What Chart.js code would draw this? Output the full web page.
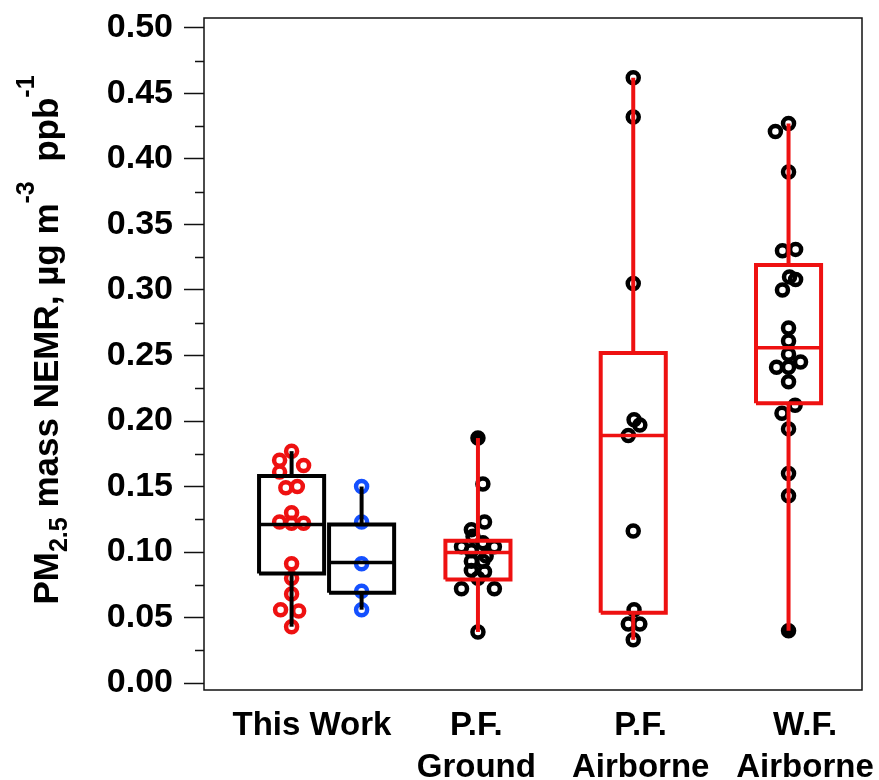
<!DOCTYPE html>
<html>
<head>
<meta charset="utf-8">
<script src="https://cdn.jsdelivr.net/npm/chart.js@4.4.1/dist/chart.umd.min.js"></script>
<style>
  body { margin: 0; background: #fff; }
  .chart-container { width: 879px; height: 780px; }
</style>
</head>
<body>
<div class="chart-container"><canvas id="nemrChart"></canvas></div>
<script>
// x axis categories (multi-line labels) and where they sit on the x axis
const categories = [['This Work'], ['P.F.', 'Ground'], ['P.F.', 'Airborne'], ['W.F.', 'Airborne']];
const categoryX = [1, 2, 3, 4];

// y axis tick labels
const yTicks = [0, 0.05, 0.10, 0.15, 0.20, 0.25, 0.30, 0.35, 0.40, 0.45, 0.50];
const yMinorTicks = [0.025, 0.075, 0.125, 0.175, 0.225, 0.275, 0.325, 0.375, 0.425, 0.475];

// PM2.5 NEMR values, one list per group, plus small horizontal jitter (x units)
const thisWorkRed = [0.177, 0.170, 0.166, 0.161, 0.150, 0.149, 0.130, 0.123, 0.122, 0.122, 0.091, 0.080, 0.068, 0.056, 0.055, 0.043];
const thisWorkRedJitter = [0, -0.073, 0.073, -0.073, 0.035, -0.035, 0, -0.073, 0, 0.073, 0, 0, 0, -0.067, 0.043, 0];

const thisWorkBlue = [0.150, 0.123, 0.091, 0.070, 0.056];
const thisWorkBlueJitter = [0, 0, 0, 0, 0];

const pfGround = [0.187, 0.152, 0.123, 0.117, 0.112, 0.107, 0.104, 0.104, 0.101, 0.097, 0.093, 0.093, 0.086, 0.085, 0.080, 0.072, 0.072, 0.039];
const pfGroundJitter = [0, 0.03, 0.04, -0.04, -0.03, 0.03, -0.1, 0.1, -0.04, 0.05, -0.04, 0.03, -0.04, 0.04, 0, -0.1, 0.1, 0];

const pfAirborne = [0.462, 0.432, 0.305, 0.201, 0.197, 0.189, 0.116, 0.056, 0.045, 0.045, 0.033];
const pfAirborneJitter = [0, 0, 0, 0.005, 0.04, -0.03, 0, 0.005, -0.03, 0.04, 0];

const wfAirborne = [0.427, 0.421, 0.390, 0.331, 0.330, 0.310, 0.308, 0.300, 0.271, 0.261, 0.251, 0.245, 0.241, 0.241, 0.230, 0.212, 0.206, 0.194, 0.160, 0.143, 0.040];
const wfAirborneJitter = [0, -0.08, 0, 0.043, -0.037, 0.006, 0.043, -0.037, 0, 0, 0, 0.073, -0.073, 0, 0, 0.04, -0.04, 0, 0, 0, 0];

// box statistics per group, same order as above
const boxCenter = [0.876, 1.302, 2.01, 2.955, 3.90];
const boxLow    = [0.043, 0.056, 0.039, 0.033, 0.040];
const boxQ1     = [0.0837, 0.069, 0.079, 0.0537, 0.2135];
const boxMedian = [0.121, 0.092, 0.0997, 0.189, 0.256];
const boxQ3     = [0.158, 0.121, 0.1086, 0.252, 0.319];
const boxHigh   = [0.177, 0.150, 0.187, 0.462, 0.427];

const RED = '#ee1111';
const BLUE = '#1450ff';
const BLACK = '#000000';
const FONT = '"Liberation Sans", Arial, sans-serif';

const groups = [
  { values: thisWorkRed, jitter: thisWorkRedJitter, point: RED, box: BLACK, filled: [] },
  { values: thisWorkBlue, jitter: thisWorkBlueJitter, point: BLUE, box: BLACK, filled: [] },
  { values: pfGround, jitter: pfGroundJitter, point: BLACK, box: RED, filled: [0] },
  { values: pfAirborne, jitter: pfAirborneJitter, point: BLACK, box: RED, filled: [] },
  { values: wfAirborne, jitter: wfAirborneJitter, point: BLACK, box: RED, filled: [20] },
];

const halfWidth = 0.198;
const datasets = [];

// boxes, medians and whiskers (drawn on top of the points)
groups.forEach((g, i) => {
  const cx = boxCenter[i];
  const line = { showLine: true, pointRadius: 0, borderColor: g.box, borderWidth: 4, borderJoinStyle: 'miter', order: 0 };
  datasets.push({ ...line, data: [
    { x: cx - halfWidth, y: boxQ1[i] }, { x: cx + halfWidth, y: boxQ1[i] },
    { x: cx + halfWidth, y: boxQ3[i] }, { x: cx - halfWidth, y: boxQ3[i] },
    { x: cx - halfWidth, y: boxQ1[i] }] });
  datasets.push({ ...line, borderWidth: 3.5, data: [{ x: cx - halfWidth, y: boxMedian[i] }, { x: cx + halfWidth, y: boxMedian[i] }] });
  datasets.push({ ...line, data: [{ x: cx, y: boxLow[i] }, { x: cx, y: boxQ1[i] }] });
  datasets.push({ ...line, data: [{ x: cx, y: boxQ3[i] }, { x: cx, y: boxHigh[i] }] });
});

// individual measurements
groups.forEach((g, i) => {
  datasets.push({
    data: g.values.map((v, k) => ({ x: boxCenter[i] + g.jitter[k], y: v })),
    pointRadius: 5.5,
    pointBorderWidth: 4.5,
    pointBorderColor: g.point,
    pointBackgroundColor: g.values.map((v, k) => g.filled.includes(k) ? g.point : 'rgba(0,0,0,0)'),
    showLine: false,
    order: 1,
  });
});

// chart frame and minor y ticks
const framePlugin = {
  id: 'frame',
  beforeDatasetsDraw(chart) {
    const { ctx, chartArea: a, scales: { y } } = chart;
    ctx.save();
    ctx.strokeStyle = '#111';
    ctx.lineWidth = 1.5;
    ctx.strokeRect(a.left, a.top, a.right - a.left, a.bottom - a.top);
    ctx.beginPath();
    yMinorTicks.forEach(v => {
      const py = Math.round(y.getPixelForValue(v)) + 0.5;
      ctx.moveTo(a.left - 9, py);
      ctx.lineTo(a.left, py);
    });
    ctx.stroke();
    ctx.restore();
  }
};

// y axis title with sub/superscripts
const yTitlePlugin = {
  id: 'yTitle',
  afterDraw(chart) {
    const ctx = chart.ctx;
    const parts = [
      { text: 'PM', size: 35, shift: 0 },
      { text: '2.5', size: 25, shift: 9 },
      { text: ' mass NEMR, µg m', size: 35, shift: 0 },
      { text: '-3', size: 25, shift: -24 },
      { text: '  ppb', size: 35, shift: 0 },
      { text: '-1', size: 25, shift: -24 },
    ];
    ctx.save();
    let total = 0;
    parts.forEach(p => {
      ctx.font = `bold ${p.size}px ${FONT}`;
      p.w = ctx.measureText(p.text).width;
      total += p.w;
    });
    const a = chart.chartArea;
    ctx.translate(58, (a.top + a.bottom) / 2 - 14);
    ctx.rotate(-Math.PI / 2);
    ctx.fillStyle = '#000';
    ctx.textBaseline = 'alphabetic';
    let x = -total / 2;
    parts.forEach(p => {
      ctx.font = `bold ${p.size}px ${FONT}`;
      ctx.fillText(p.text, x, p.shift);
      x += p.w;
    });
    ctx.restore();
  }
};

const ctx = document.getElementById('nemrChart').getContext('2d');
new Chart(ctx, {
  type: 'scatter',
  data: { datasets },
  options: {
    responsive: true,
    maintainAspectRatio: false,
    animation: false,
    layout: { padding: { top: 18, right: 17, bottom: 0, left: 0 } },
    plugins: { legend: { display: false }, tooltip: { enabled: false } },
    scales: {
      x: {
        type: 'linear',
        min: 0.343,
        max: 4.347,
        afterBuildTicks: (axis) => { axis.ticks = categoryX.map(v => ({ value: v })); },
        afterFit: (axis) => { axis.height = 90; axis.paddingLeft = 0; axis.paddingRight = 0; },
        grid: { display: false, drawTicks: false },
        border: { display: false },
        ticks: {
          autoSkip: false,
          maxRotation: 0,
          padding: 14,
          color: '#000',
          font: { family: FONT, size: 33, weight: 'bold', lineHeight: 1.3 },
          callback: (v, i) => categories[i],
        },
      },
      y: {
        min: -0.0053,
        max: 0.5076,
        afterBuildTicks: (axis) => { axis.ticks = yTicks.map(v => ({ value: v })); },
        afterFit: (axis) => { axis.width = 204; axis.paddingTop = 0; axis.paddingBottom = 0; },
        grid: { drawOnChartArea: false, tickLength: 20, tickWidth: 1.5, tickColor: '#111' },
        border: { display: false },
        ticks: {
          autoSkip: false,
          padding: 11,
          color: '#000',
          font: { family: FONT, size: 34, weight: 'bold' },
          callback: (v) => v.toFixed(2),
        },
      },
    },
  },
  plugins: [framePlugin, yTitlePlugin],
});
</script>
</body>
</html>
